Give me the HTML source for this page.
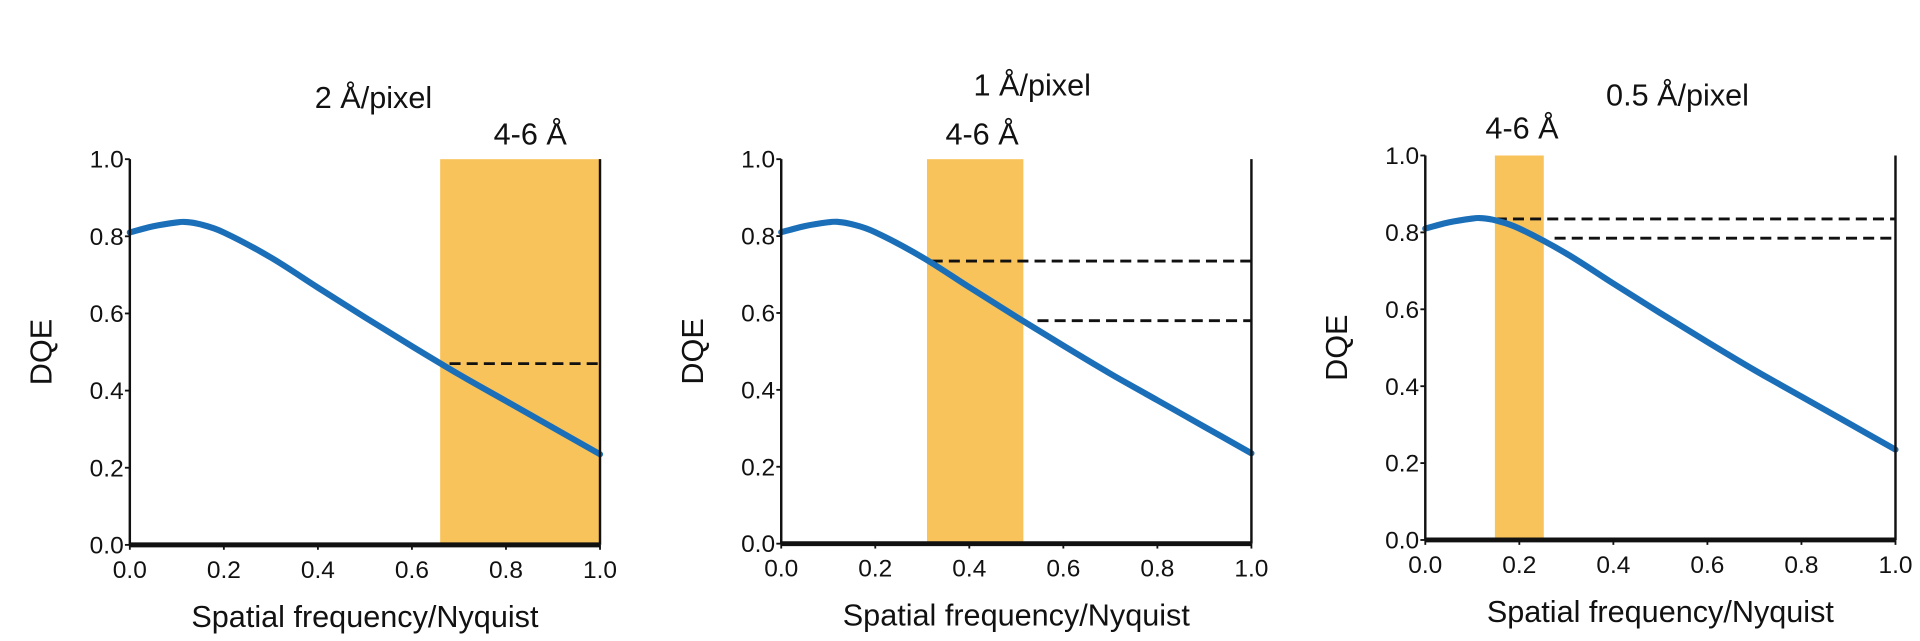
<!DOCTYPE html>
<html><head><meta charset="utf-8"><style>
html,body{margin:0;padding:0;background:#fff;width:1920px;height:641px;overflow:hidden}
text{font-family:"Liberation Sans",sans-serif;fill:#111}
</style></head><body>
<svg id="chart" width="1920" height="641" viewBox="0 0 1568 523.5" xmlns="http://www.w3.org/2000/svg"></svg>
<script>
const freqs=[0,0.05,0.1,0.12,0.15,0.2,0.3,0.4,0.5,0.6,0.7,0.8,0.9,1.0];
const dqe=[0.81,0.826,0.836,0.837,0.831,0.81,0.745,0.667,0.59,0.515,0.442,0.373,0.304,0.235];
const xTicks=[0,0.2,0.4,0.6,0.8,1.0];
const yTicks=[0,0.2,0.4,0.6,0.8,1.0];
const panelTitles=["2 Å/pixel","1 Å/pixel","0.5 Å/pixel"];
const bandStart=[0.66,0.31,0.148];
const bandEnd=[1.0,0.515,0.252];
const dashLevels=[[0.47],[0.735,0.58],[0.835,0.785]];
const dashStart=[[0.68],[0.32,0.545],[0.15,0.275]];
const layout=[
 {x0:106,x1:490,yTop:130,yBot:445,tx:305,ty:88,bx:433,by:118},
 {x0:638,x1:1022,yTop:130,yBot:444,tx:843,ty:78,bx:802,by:118},
 {x0:1164,x1:1548,yTop:127,yBot:441,tx:1370,ty:86,bx:1243,by:113}
];
const svg=document.getElementById('chart');
const NS="http://www.w3.org/2000/svg";
function mk(tag,attrs,parent){const e=document.createElementNS(NS,tag);for(const k in attrs)e.setAttribute(k,attrs[k]);parent.appendChild(e);return e;}
layout.forEach((L,i)=>{
 const g=mk('g',{},svg);
 
 
 const sx=v=>L.x0+v*(L.x1-L.x0);
 const sy=v=>L.yBot-v*(L.yBot-L.yTop);
 const band=mk('rect',{x:sx(bandStart[i]),y:sy(1),width:sx(bandEnd[i])-sx(bandStart[i]),height:sy(0)-sy(1),fill:'#f9c35c'},g);
 
 
 dashLevels[i].forEach((lv,j)=>{
  const d=mk('line',{x1:sx(dashStart[i][j]),x2:L.x1,y1:sy(lv),y2:sy(lv),stroke:'#111','stroke-width':2.3,'stroke-dasharray':'9,5'},g);
  
  
 });
 const pts=freqs.map((f,k)=>[sx(f),sy(dqe[k])]);
 let dstr='M'+pts[0][0]+','+pts[0][1];
 for(let k=0;k<pts.length-1;k++){
  const p0=pts[k-1]||pts[k],p1=pts[k],p2=pts[k+1],p3=pts[k+2]||p2;
  dstr+=' C'+(p1[0]+(p2[0]-p0[0])/6)+','+(p1[1]+(p2[1]-p0[1])/6)+' '+(p2[0]-(p3[0]-p1[0])/6)+','+(p2[1]-(p3[1]-p1[1])/6)+' '+p2[0]+','+p2[1];
 }
 const c=mk('path',{d:dstr,fill:'none',stroke:'#1a6fb8','stroke-width':5,'stroke-linecap':'round'},g);
 
 
 mk('line',{x1:L.x0,x2:L.x0,y1:L.yTop,y2:L.yBot,stroke:'#111','stroke-width':2},g);
 mk('line',{x1:L.x1,x2:L.x1,y1:L.yTop,y2:L.yBot,stroke:'#111','stroke-width':2},g);
 mk('line',{x1:L.x0,x2:L.x1,y1:L.yBot,y2:L.yBot,stroke:'#111','stroke-width':4},g);
 yTicks.forEach(t=>{
  mk('line',{x1:L.x0-4,x2:L.x0,y1:sy(t),y2:sy(t),stroke:'#111','stroke-width':1.5},g);
  const tl=mk('text',{x:L.x0-5,y:sy(t)+7,'text-anchor':'end','font-size':20},g);
  tl.textContent=t.toFixed(1);
  
  
 });
 xTicks.forEach(t=>{
  mk('line',{x1:sx(t),x2:sx(t),y1:L.yBot,y2:L.yBot+4,stroke:'#111','stroke-width':1.5},g);
  const tl=mk('text',{x:sx(t),y:L.yBot+27,'text-anchor':'middle','font-size':20},g);
  tl.textContent=t.toFixed(1);
  
  
 });
 const yl=mk('text',{x:0,y:0,'text-anchor':'middle','font-size':25,transform:'translate('+(L.x0-64)+','+((L.yTop+L.yBot)/2)+') rotate(-90)'},g);
 yl.textContent='DQE';
 
 
 const xl=mk('text',{x:(L.x0+L.x1)/2,y:L.yBot+67,'text-anchor':'middle','font-size':25},g);
 xl.textContent='Spatial frequency/Nyquist';
 
 
 const tt=mk('text',{x:L.tx,y:L.ty,'text-anchor':'middle','font-size':25},g);
 tt.textContent=panelTitles[i];
 
 
 const bl=mk('text',{x:L.bx,y:L.by,'text-anchor':'middle','font-size':25},g);
 bl.textContent='4-6 Å';
 
 
});
</script>
</body></html>
